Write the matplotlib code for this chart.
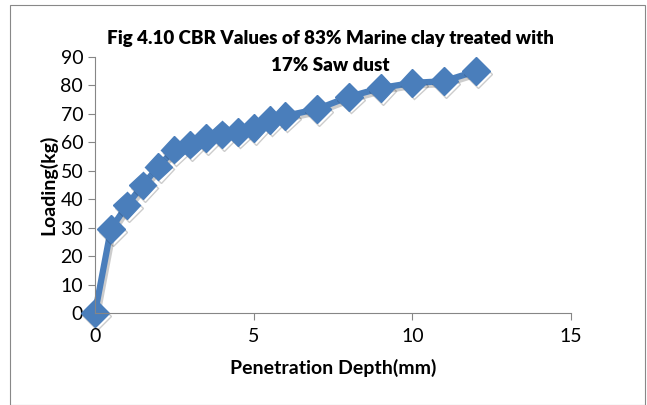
import numpy as np
from matplotlib import pyplot as plt
from matplotlib import patheffects as pe
from matplotlib.patches import Rectangle

depth = [0, 0.5, 1.0, 1.5, 2.0, 2.5, 3.0, 3.5, 4.0, 4.5, 5.0, 5.5, 6.0, 7.0, 8.0, 9.0, 10.0, 11.0, 12.0]
load = [0, 29.5, 37.8, 44.9, 51.5, 57.4, 59.2, 61.5, 62.8, 63.7, 65.0, 67.9, 69.3, 71.7, 76.0, 79.1, 80.9, 81.5, 85.0]

plt.rcParams['font.family'] = ['Lato', 'DejaVu Sans']

fig = plt.figure(figsize=(6.47, 4.05), dpi=100)
fig.patches.append(Rectangle((10/647, 0), 635/647, 400/405, transform=fig.transFigure,
                             fill=False, edgecolor='#888888', linewidth=0.8))

ax = fig.add_axes([95/647, (405-313)/405, (571-95)/647, (313-57)/405])
line_color = '#4A7EBB'
ax.plot(depth, load, color=line_color, linewidth=4.5, marker='D', markersize=14,
        markerfacecolor=line_color, markeredgecolor=line_color, clip_on=False,
        path_effects=[pe.SimpleLineShadow(offset=(1.5, -2), shadow_color='black', alpha=0.2),
                      pe.Normal()])

ax.set_xlim(0, 15)
ax.set_ylim(0, 90)
ax.set_xticks([0, 5, 10, 15])
ax.set_yticks(range(0, 91, 10))
for s in ['top', 'right']:
    ax.spines[s].set_visible(False)
for s in ['left', 'bottom']:
    ax.spines[s].set_color('#868686')
ax.tick_params(colors='#868686', labelcolor='black', labelsize=14, length=5, direction='out')
ax.tick_params(axis='x', pad=6)

ax.set_xlabel('Penetration Depth(mm)', fontsize=14, fontweight='bold', labelpad=10)
ax.set_ylabel('Loading(kg)', fontsize=14, fontweight='bold', labelpad=2)
fig.text(330/647, 1 - 52/405, 'Fig 4.10 CBR Values of 83% Marine clay treated with\n17% Saw dust',
         ha='center', va='center', fontsize=13.5, fontweight='heavy', linespacing=1.65)

fig.savefig('out.png', dpi=100)
